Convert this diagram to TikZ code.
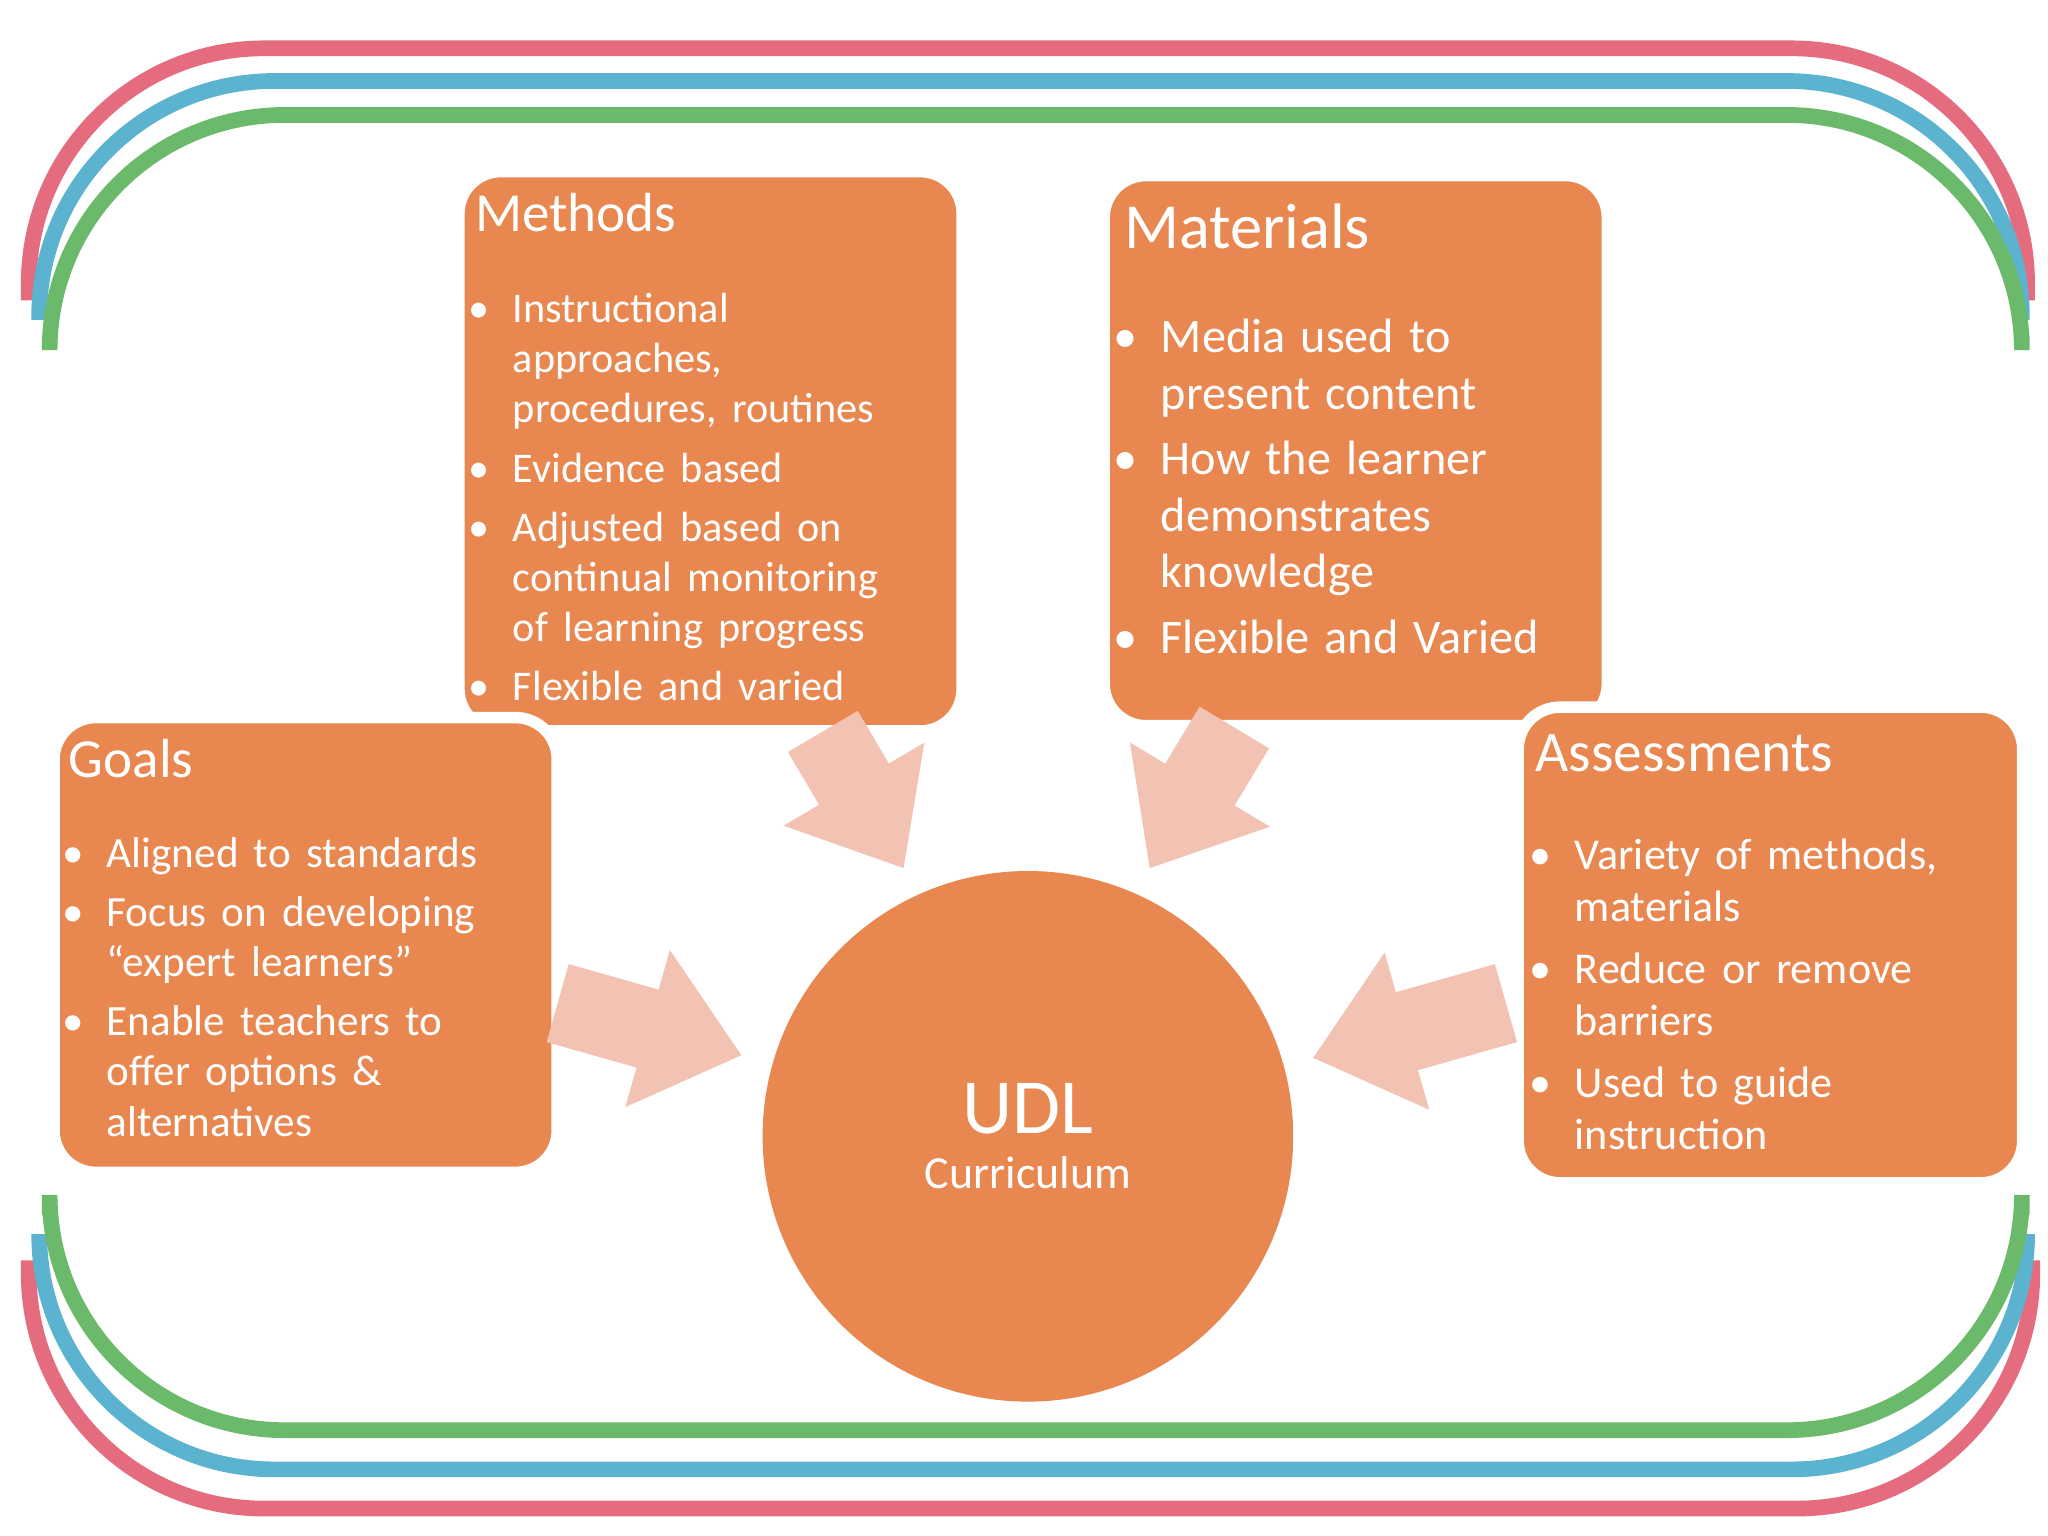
\documentclass[tikz,border=0pt]{standalone}
\usepackage{fontspec}
\setmainfont{Carlito}
\usepackage{enumitem}
\usetikzlibrary{arrows.meta}
\definecolor{org}{HTML}{E8874F}
\definecolor{pale}{HTML}{F2C3B3}
\definecolor{rd}{HTML}{E46C7E}
\definecolor{bl}{HTML}{5BB3CF}
\definecolor{gr}{HTML}{6BB96A}
\newcommand{\bx}[2]{\fontsize{#1}{#2}\selectfont}
\begin{document}
\begin{tikzpicture}[x=0.01cm,y=-0.01cm,
  box/.style={fill=org,draw=white,line width=2.5pt,rounded corners=0.32cm},
  frame/.style={line width=0.12cm,rounded corners=1.8cm},
  barr/.style={draw=pale,line width=0.62cm,-{Triangle[width=1.2cm,length=0.75cm]}},
  ttl/.style={anchor=west,text=white,inner sep=0pt},
  lst/.style={anchor=north west,text=white,inner sep=0pt,align=left}]
\useasboundingbox (0,0) rectangle (1568,1176);
\fill[white] (0,0) rectangle (1568,1176);
% frames
\draw[frame,rd] (22,230) -- (22,37) -- (1552,37) -- (1552,230);
\draw[frame,bl] (30,245) -- (30,62) -- (1548,62) -- (1548,245);
\draw[frame,gr] (38,258) -- (38,88) -- (1548,88) -- (1548,258);
\draw[frame,rd] (22,965) -- (22,1155) -- (1556,1155) -- (1556,965);
\draw[frame,bl] (30,950) -- (30,1125) -- (1552,1125) -- (1552,950);
\draw[frame,gr] (38,930) -- (38,1095) -- (1548,1095) -- (1548,930);
% boxes
\node[box,minimum width=3.85cm,minimum height=4.28cm,anchor=north west] (meth) at (347,127) {};
\node[box,minimum width=3.85cm,minimum height=4.21cm,anchor=north west] (mat) at (841,130) {};
\node[box,minimum width=3.85cm,minimum height=3.48cm,anchor=north west] (goal) at (37,545) {};
\node[box,minimum width=3.86cm,minimum height=3.64cm,anchor=north west] (ass) at (1158,537) {};
\node[circle,fill=org,minimum size=4.06cm,inner sep=0pt,text=white,align=center] (udl) at (787,870)
  {\bx{17}{21}UDL\\Curriculum};
% arrows
\coordinate (a1s) at (427,768); \coordinate (a1e) at (568,808);
\coordinate (a2s) at (1153,768); \coordinate (a2e) at (1005,810);
\coordinate (a3s) at (630,560); \coordinate (a3e) at (692,665);
\coordinate (a4s) at (945,557); \coordinate (a4e) at (880,665);
\draw[barr] (a1s) -- (a1e);
\draw[barr] (a2s) -- (a2e);
\draw[barr] (a3s) -- (a3e);
\draw[barr] (a4s) -- (a4e);
% texts
\node[ttl] (mt) at (363,163) {\bx{12}{14}Methods};
\node[lst,text width=3.45cm] (ml) at (362,208) {\bx{9.2}{10.9}%
\begin{itemize}[leftmargin=0.3cm,itemsep=2pt,topsep=0pt,parsep=0pt,label=\textbullet]
\item Instructional approaches, procedures, routines
\item Evidence based
\item Adjusted based on continual monitoring of learning progress
\item Flexible and varied
\end{itemize}};
\node[ttl] (tt) at (860,173) {\bx{14}{16}Materials};
\node[lst,text width=3.45cm] (tl) at (858,226) {\bx{10.5}{12.3}%
\begin{itemize}[leftmargin=0.3cm,itemsep=2pt,topsep=0pt,parsep=0pt,label=\textbullet]
\item Media used to present content
\item How the learner demonstrates knowledge
\item Flexible and Varied
\end{itemize}};
\node[ttl] (gt) at (52,581) {\bx{12}{14}Goals};
\node[lst,text width=3.45cm] (gl) at (51,625) {\bx{9.4}{10.9}%
\begin{itemize}[leftmargin=0.3cm,itemsep=2pt,topsep=0pt,parsep=0pt,label=\textbullet]
\item Aligned to standards
\item Focus on developing “expert learners”
\item Enable teachers to offer options \& alternatives
\end{itemize}};
\node[ttl] (at) at (1175,577) {\bx{12.5}{14}Assessments};
\node[lst,text width=3.45cm] (al) at (1174,625) {\bx{9.6}{11.4}%
\begin{itemize}[leftmargin=0.31cm,itemsep=2pt,topsep=0pt,parsep=0pt,label=\textbullet]
\item Variety of methods, materials
\item Reduce or remove barriers
\item Used to guide instruction
\end{itemize}};
\end{tikzpicture}
\end{document}
